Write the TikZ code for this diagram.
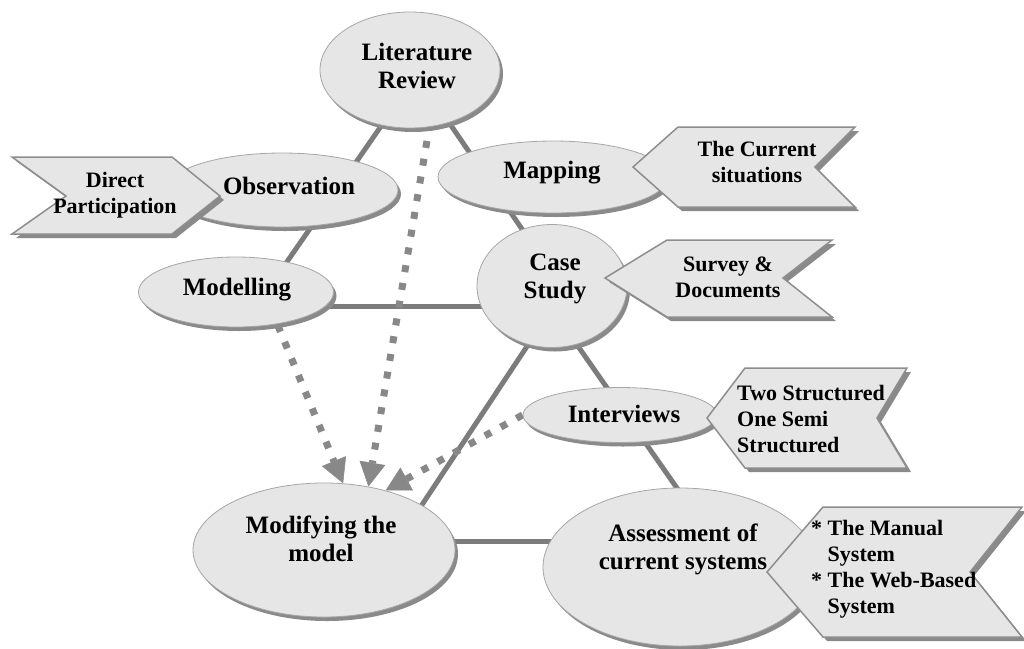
\documentclass[tikz,border=0pt]{standalone}
\usepackage{fontspec}
\setmainfont{Liberation Serif}
\usetikzlibrary{shapes.geometric,shadows,arrows.meta}
\pgfdeclarelayer{bg}
\pgfsetlayers{bg,main}
\definecolor{fillc}{HTML}{E6E6E6}
\definecolor{edgec}{HTML}{A6A6A6}
\definecolor{shadc}{HTML}{8A8A8A}
\definecolor{cedge}{HTML}{8E8E8E}
\definecolor{linec}{HTML}{7C7C7C}
\definecolor{dotc}{HTML}{888888}
\newcommand\mycallout[1]{%
  \fill[shadc,shift={(4,4)}] #1 -- cycle;
  \filldraw[callout] #1 -- cycle;}
\tikzset{
  ell/.style={ellipse, fill=fillc, draw=edgec, line width=0.8pt, inner sep=0pt,
    drop shadow={shadow xshift=3pt, shadow yshift=-4pt, fill=shadc, opacity=1}},
  lbl/.style={font=\fontsize{25}{28}\selectfont\bfseries, align=center, inner sep=0pt},
  clbl/.style={font=\fontsize{22}{26}\selectfont\bfseries, align=center, inner sep=0pt},
  callout/.style={fill=fillc, draw=cedge, line width=1.5pt, line join=miter},
  conn/.style={draw=linec, line width=5pt},
  dotarrow/.style={draw=dotc, line width=7pt, dash pattern=on 7pt off 11pt,
    -{Triangle[length=24pt,width=26pt,line width=0.5pt]}}
}
\begin{document}
\begin{tikzpicture}[x=1pt,y=-1pt]
\useasboundingbox (0,0) rectangle (1024,648);
% ellipses
\node[ell, minimum width=180pt, minimum height=116pt] (lit) at (410,70) {};
\node[lbl] (litT) at (417,66) {Literature\\Review};
\node[ell, minimum width=232pt, minimum height=74pt] (obs) at (282,190) {};
\node[lbl] (obsT) at (289,186) {Observation};
\node[ell, minimum width=230pt, minimum height=72pt] (map) at (553,177) {};
\node[lbl] (mapT) at (552,173) {Mapping};
\node[ell, minimum width=150pt, minimum height=123pt] (case) at (552,286) {};
\node[lbl] (caseT) at (555,279) {Case\\Study};
\node[ell, minimum width=195pt, minimum height=70pt] (model) at (236,292) {};
\node[lbl] (modelT) at (237,290) {Modelling};
\node[ell, minimum width=194pt, minimum height=55pt] (int) at (620,415) {};
\node[lbl] (intT) at (624,414) {Interviews};
\node[ell, minimum width=262pt, minimum height=134pt] (mod) at (324,550) {};
\node[lbl] (modT) at (321,539) {Modifying the\\model};
\node[ell, minimum width=274pt, minimum height=158pt] (ass) at (680,567) {};
\node[lbl] (assT) at (683,549) {Assessment of\\current systems};
% connectors
\begin{pgfonlayer}{bg}
\draw[conn] ([xshift=10pt]lit.center) -- ([xshift=30pt]model.center);
\draw[conn] ([xshift=3pt]lit.center) -- ([xshift=9pt]case.center);
\draw[conn] ([yshift=-14pt]model.center) -- ([yshift=-20pt]case.center);
\draw[conn] ([xshift=-16pt]case.center) -- ([xshift=52pt]ass.center);
\draw[conn] ([xshift=15pt]case.center) -- ([xshift=68pt]mod.center);
\draw[conn] ([yshift=9pt]mod.center) -- ([yshift=26pt]ass.center);
\draw[dotarrow] ([xshift=29pt]lit.center) -- (mod.55);
\draw[dotarrow] ([xshift=28pt]model.center) -- (mod.74);
\draw[dotarrow] (int.west) -- (mod.44);
\end{pgfonlayer}
% callouts
\mycallout{(12,157) -- (172,157) -- (220,196) -- (172,234) -- (12,234) -- (66,196)}
\node[clbl] (dirT) at (115,195) {Direct\\Participation};
\mycallout{(678,127) -- (855,127) -- (815,167) -- (855,207) -- (678,207) -- (633,167)}
\node[clbl] (curT) at (757,162) {The Current\\situations};
\mycallout{(667,240) -- (832,240) -- (783,278) -- (832,317) -- (667,317) -- (605,278)}
\node[clbl] (surT) at (728,277) {Survey \&\\Documents};
\mycallout{(745,368) -- (907,368) -- (877,418) -- (907,468) -- (745,468) -- (707,418)}
\node[clbl, anchor=west, align=left] (twoT) at (737,419) {Two Structured\\One Semi\\Structured};
\mycallout{(823,507) -- (1022,507) -- (970,572) -- (1022,637) -- (823,637) -- (767,572)}
\node[clbl, anchor=west, align=left] (manT) at (811,569) {* The Manual\\\hphantom{* }System\\* The Web-Based\\\hphantom{* }System};
\end{tikzpicture}
\end{document}
